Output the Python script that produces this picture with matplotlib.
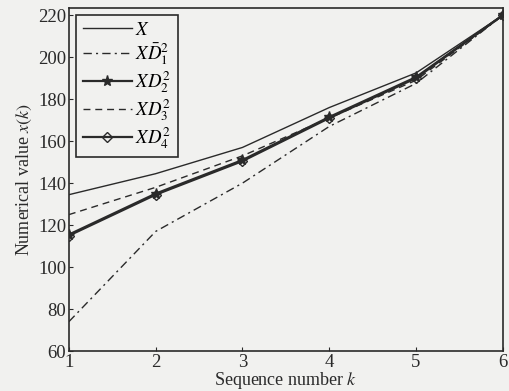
import matplotlib
matplotlib.use("Agg")
import matplotlib.pyplot as plt

plt.rcParams['font.family'] = ['Liberation Serif', 'DejaVu Serif']
plt.rcParams['mathtext.fontset'] = 'stix'

# data
k = [1, 2, 3, 4, 5, 6]
x_orig = [134.5, 144.5, 157, 176, 192.5, 220]
xd1 = [74, 117, 140, 167, 187.5, 220]
xd2 = [115.5, 135, 151, 171.5, 190.5, 220]
xd3 = [125, 138, 153, 171, 189, 220]
xd4 = [115, 134.5, 150.5, 171, 190, 220]

labels = [r'$X$', r'$X\bar{D}_1^2$', r'$XD_2^2$', r'$XD_3^2$', r'$XD_4^2$']
yticks = [60, 80, 100, 120, 140, 160, 180, 200, 220]

bg = '#f1f1ef'
fig = plt.figure(figsize=(5.1, 3.91), dpi=100, facecolor=bg)
ax = fig.add_axes([0.135, 0.102, 0.851, 0.878], facecolor=bg)

ink = '#2a2a2a'
ax.plot(k, x_orig, '-', color=ink, lw=1.0, label=labels[0])
ax.plot(k, xd1, color=ink, lw=1.0, dashes=(6, 3, 1.5, 3), label=labels[1])
ax.plot(k, xd4, '-', color=ink, lw=1.6, marker='D', ms=5, mfc='none',
        mec=ink, label=labels[4], zorder=2)
ax.plot(k, xd2, '-', color=ink, lw=1.6, marker='*', ms=8, label=labels[2], zorder=3)
ax.plot(k, xd3, color=ink, lw=1.0, dashes=(5, 3.5), label=labels[3])

ax.set_xlim(1, 6)
ax.set_ylim(60, 223.5)
ax.set_xticks(k)
ax.set_yticks(yticks)
ax.tick_params(direction='in', labelsize=13.5, colors=ink, length=3, pad=2)
for s in ax.spines.values():
    s.set_color(ink)
    s.set_linewidth(1.2)

ax.set_xlabel(r'Sequence number $k$', fontsize=13, color=ink, labelpad=-1)
ax.set_ylabel(r'Numerical value $x(k)$', fontsize=13, color=ink, labelpad=3)

h, l = ax.get_legend_handles_labels()
order = [0, 1, 3, 4, 2]
leg = ax.legend([h[i] for i in order], [l[i] for i in order], loc='upper left',
                fontsize=13.5, frameon=True, fancybox=False, edgecolor=ink,
                facecolor=bg, framealpha=1, handlelength=2.6,
                borderaxespad=0.4, labelspacing=0.12, handletextpad=0.2,
                borderpad=0.35)
leg.get_frame().set_linewidth(1.2)

fig.savefig('out.png', dpi=100, facecolor=bg)
